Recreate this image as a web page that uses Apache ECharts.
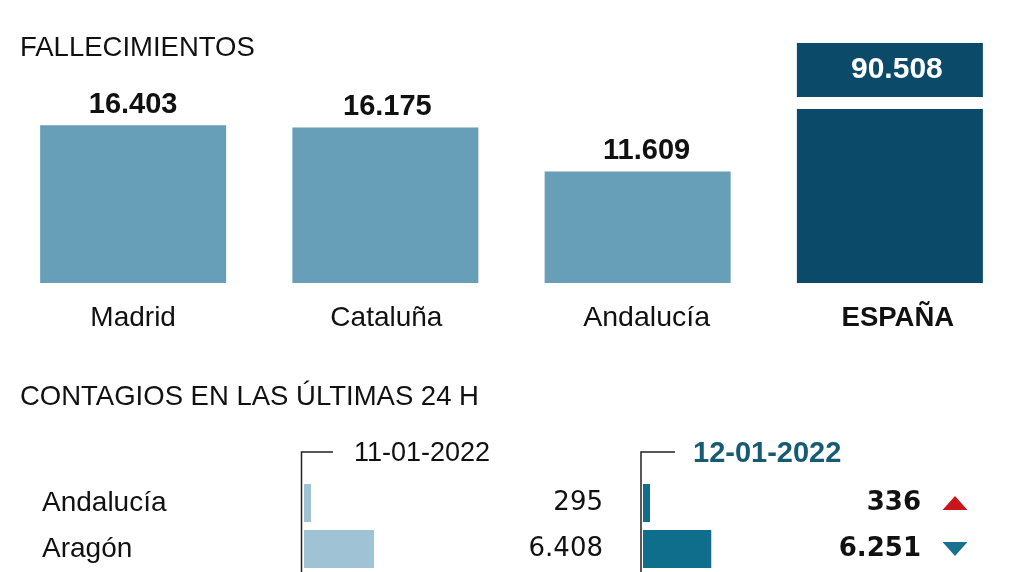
<!DOCTYPE html>
<html>
<head>
<meta charset="utf-8">
<script src="https://cdn.jsdelivr.net/npm/echarts@6/dist/echarts.min.js"></script>
<style>html,body{margin:0;padding:0;background:#fff}#c{width:1016px;height:572px}</style>
</head>
<body>
<div id="c"></div>
<script>
const deathCategories = ['Madrid', 'Cataluña', 'Andalucía', 'ESPAÑA'];
const deathValues = [16403, 16175, 11609, 90508];
const regions = ['Andalucía', 'Aragón'];
const dates = ['11-01-2022', '12-01-2022'];
const cases11 = [295, 6408];
const cases12 = [336, 6251];

const fmt = n => String(n).replace(/\B(?=(\d{3})+(?!\d))/g, '.');
const FONT = '"Liberation Sans", Arial, sans-serif';
const NUMFONT = '"DejaVu Sans", sans-serif';
const LIGHT = '#679eb8', DARK = '#0b4a69';
// small horizontal text nudges seen in the reference (style only)
const labelNudge = [0, 2, 18, 16];
const valueNudge = [0, 2, 9, 0];

const chart = echarts.init(document.getElementById('c'), null, {renderer: 'canvas'});

const deathData = deathValues.map((v, i) => {
  const last = i === deathValues.length - 1;
  if (!last) return {value: v, label: {offset: [valueNudge[i], 0]}};
  return {
    value: v,
    itemStyle: {color: DARK},
    label: {
      color: '#fff', backgroundColor: DARK, width: 172, height: 54, lineHeight: 54,
      align: 'center', distance: 12, padding: [0, 0, 0, 14], fontSize: 30
    }
  };
});

const trend = cases12.map((v, i) => {
  const up = v > cases11[i];
  return {
    value: [0, regions[i]],
    symbolRotate: up ? 0 : 180,
    itemStyle: {color: up ? '#c8161d' : '#17728f', opacity: 1}
  };
});

const titleStyle = {fontFamily: FONT, fontSize: 27.5, fontWeight: 'normal', color: '#111'};

chart.setOption({
  backgroundColor: '#fff',
  animation: false,
  textStyle: {fontFamily: FONT},
  title: [
    {text: 'FALLECIMIENTOS', left: 20, top: 34, padding: 0, textStyle: titleStyle},
    {text: 'CONTAGIOS EN LAS ÚLTIMAS 24 H', left: 20, top: 383, padding: 0, textStyle: titleStyle},
    {text: dates[0], left: 354, top: 440, padding: 0, textStyle: {fontFamily: FONT, fontSize: 27, fontWeight: 'normal', color: '#111'}},
    {text: dates[1], left: 693, top: 439, padding: 0, textStyle: {fontFamily: FONT, fontSize: 29, fontWeight: 'bold', color: '#165a74'}}
  ],
  graphic: [
    {type: 'polyline', shape: {points: [[333, 452], [301.5, 452], [301.5, 572]]}, style: {stroke: '#222', lineWidth: 1.5, fill: null}},
    {type: 'polyline', shape: {points: [[675, 452], [641, 452], [641, 572]]}, style: {stroke: '#222', lineWidth: 1.5, fill: null}}
  ],
  grid: [
    {left: 7, right: 0, top: 109, bottom: 289},
    {left: 304, width: 273, top: 480, height: 94},
    {left: 643, width: 273, top: 480, height: 94},
    {left: 942, width: 26, top: 480, height: 94}
  ],
  xAxis: [
    {
      gridIndex: 0, type: 'category', data: deathCategories,
      axisLine: {show: false}, axisTick: {show: false},
      axisLabel: {
        margin: 21, fontSize: 28, color: '#111', fontFamily: FONT,
        formatter: (v, i) => (i === deathCategories.length - 1 ? '{b|' : '{n' + i + '|') + v + '}',
        rich: {
          n0: {fontSize: 28, fontFamily: FONT, color: '#111', padding: [0, 0, 0, labelNudge[0]]},
          n1: {fontSize: 28, fontFamily: FONT, color: '#111', padding: [0, 0, 0, labelNudge[1]]},
          n2: {fontSize: 28.5, fontFamily: FONT, color: '#111', padding: [0, 0, 0, labelNudge[2]]},
          b: {fontWeight: 'bold', fontSize: 27.5, fontFamily: FONT, color: '#111', padding: [0, 0, 0, labelNudge[3]]}
        }
      }
    },
    {gridIndex: 1, type: 'value', min: 0, max: 25000, show: false},
    {gridIndex: 2, type: 'value', min: 0, max: 25000, show: false},
    {gridIndex: 3, type: 'value', min: -1, max: 1, show: false}
  ],
  yAxis: [
    {gridIndex: 0, type: 'value', min: 0, max: 18100, show: false},
    {
      gridIndex: 1, type: 'category', data: regions, inverse: true, position: 'left',
      axisLine: {show: false}, axisTick: {show: false}, splitLine: {show: false},
      axisLabel: {align: 'left', margin: 262, fontSize: 28, color: '#111', fontFamily: FONT}
    },
    {
      gridIndex: 1, type: 'category', data: cases11.map(fmt), inverse: true, position: 'right',
      axisLine: {show: false}, axisTick: {show: false}, splitLine: {show: false},
      axisLabel: {align: 'right', margin: 26, fontSize: 26, color: '#111', fontFamily: NUMFONT}
    },
    {
      gridIndex: 2, type: 'category', data: regions, inverse: true, show: false
    },
    {
      gridIndex: 2, type: 'category', data: cases12.map(fmt), inverse: true, position: 'right',
      axisLine: {show: false}, axisTick: {show: false}, splitLine: {show: false},
      axisLabel: {align: 'right', margin: 5, fontSize: 26, fontWeight: 'bold', color: '#111', fontFamily: NUMFONT}
    },
    {gridIndex: 3, type: 'category', data: regions, inverse: true, show: false}
  ],
  series: [
    {
      type: 'bar', xAxisIndex: 0, yAxisIndex: 0, data: deathData, barWidth: 186,
      itemStyle: {color: LIGHT}, clip: true,
      label: {
        show: true, position: 'top', distance: 6, formatter: p => fmt(p.value),
        fontSize: 29, fontWeight: 'bold', color: '#111', fontFamily: FONT
      }
    },
    {
      type: 'bar', xAxisIndex: 1, yAxisIndex: 1, data: cases11, barWidth: 38, barMinHeight: 7,
      itemStyle: {color: '#9fc3d4'}
    },
    {
      type: 'bar', xAxisIndex: 2, yAxisIndex: 3, data: cases12, barWidth: 38, barMinHeight: 7,
      itemStyle: {color: '#0f6e8c'}
    },
    {
      type: 'scatter', xAxisIndex: 3, yAxisIndex: 5, data: trend,
      symbol: 'triangle', symbolSize: [25, 14]
    }
  ]
});
</script>
</body>
</html>
